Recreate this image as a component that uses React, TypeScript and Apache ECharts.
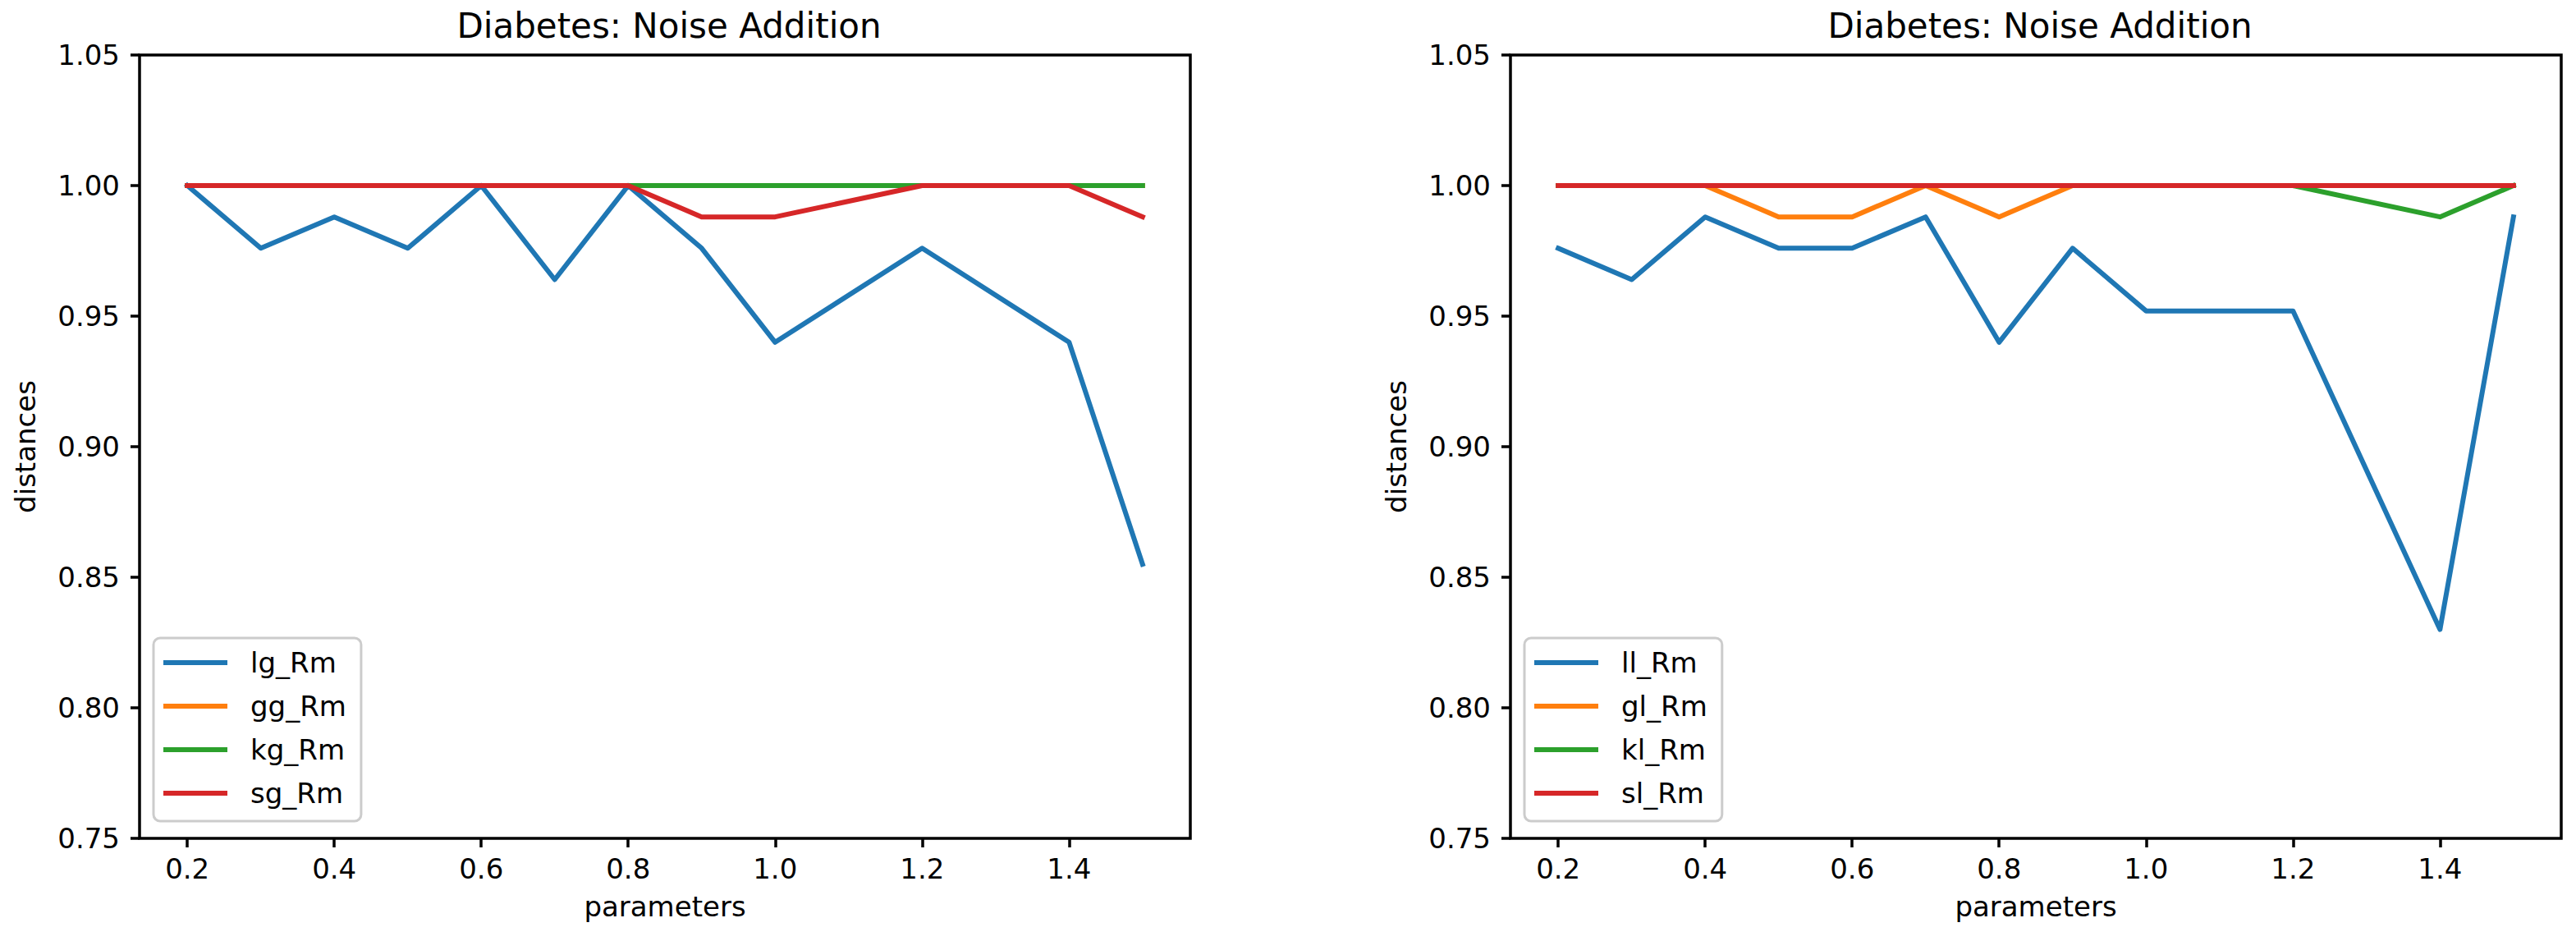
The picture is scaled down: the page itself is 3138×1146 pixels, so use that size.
import React, { useEffect, useRef } from "react";
import * as echarts from "echarts";

const X_PARAMS = [0.2, 0.3, 0.4, 0.5, 0.6, 0.7, 0.8, 0.9, 1.0, 1.2, 1.4, 1.5];
const X_TICKS = [0.2, 0.4, 0.6, 0.8, 1.0, 1.2, 1.4];
const Y_TICKS = [0.75, 0.8, 0.85, 0.9, 0.95, 1.0, 1.05];

const LEFT_NAMES = ["lg_Rm", "gg_Rm", "kg_Rm", "sg_Rm"];
const lg_Rm = [1.0, 0.976, 0.988, 0.976, 1.0, 0.964, 1.0, 0.976, 0.94, 0.976, 0.94, 0.855];
const gg_Rm = [1.0, 1.0, 1.0, 1.0, 1.0, 1.0, 1.0, 1.0, 1.0, 1.0, 1.0, 1.0];
const kg_Rm = [1.0, 1.0, 1.0, 1.0, 1.0, 1.0, 1.0, 1.0, 1.0, 1.0, 1.0, 1.0];
const sg_Rm = [1.0, 1.0, 1.0, 1.0, 1.0, 1.0, 1.0, 0.988, 0.988, 1.0, 1.0, 0.988];

const RIGHT_NAMES = ["ll_Rm", "gl_Rm", "kl_Rm", "sl_Rm"];
const ll_Rm = [0.976, 0.964, 0.988, 0.976, 0.976, 0.988, 0.94, 0.976, 0.952, 0.952, 0.83, 0.988];
const gl_Rm = [1.0, 1.0, 1.0, 0.988, 0.988, 1.0, 0.988, 1.0, 1.0, 1.0, 1.0, 1.0];
const kl_Rm = [1.0, 1.0, 1.0, 1.0, 1.0, 1.0, 1.0, 1.0, 1.0, 1.0, 0.988, 1.0];
const sl_Rm = [1.0, 1.0, 1.0, 1.0, 1.0, 1.0, 1.0, 1.0, 1.0, 1.0, 1.0, 1.0];

const TITLE = "Diabetes: Noise Addition";
const X_NAME = "parameters";
const Y_NAME = "distances";
const COLORS = ["#1f77b4", "#ff7f0e", "#2ca02c", "#d62728"];

const FONT = "DejaVu Sans";

export default function App() {
  const ref = useRef<HTMLDivElement>(null);

  useEffect(() => {
    if (!ref.current) return;
    const chart = echarts.init(ref.current, null, { renderer: "svg" });

    const plots = [
      { left: 170, names: LEFT_NAMES, values: [lg_Rm, gg_Rm, kg_Rm, sg_Rm] },
      { left: 1840, names: RIGHT_NAMES, values: [ll_Rm, gl_Rm, kl_Rm, sl_Rm] },
    ];
    const W = 1280;
    const H = 954;
    const TOP = 67;

    const grid: any[] = [];
    const xAxis: any[] = [];
    const yAxis: any[] = [];
    const series: any[] = [];
    const legend: any[] = [];
    const title: any[] = [];

    plots.forEach((p, i) => {
      grid.push({
        left: p.left,
        top: TOP,
        width: W,
        height: H,
        show: true,
        borderColor: "#000",
        borderWidth: 3.5,
        backgroundColor: "#fff",
      });
      xAxis.push({
        type: "value",
        gridIndex: i,
        min: 0.135,
        max: 1.565,
        name: X_NAME,
        nameLocation: "middle",
        nameGap: 66,
        nameTextStyle: { fontFamily: FONT, fontSize: 34, color: "#000" },
        axisLine: { show: false },
        splitLine: { show: false },
        axisTick: {
          show: true,
          length: 11,
          lineStyle: { color: "#000", width: 3.5 },
          customValues: X_TICKS,
        },
        axisLabel: {
          fontFamily: FONT,
          fontSize: 34,
          color: "#000",
          margin: 20,
          customValues: X_TICKS,
          formatter: (v: number) => v.toFixed(1),
        },
      });
      yAxis.push({
        type: "value",
        gridIndex: i,
        min: 0.75,
        max: 1.05,
        interval: 0.05,
        name: Y_NAME,
        nameLocation: "middle",
        nameGap: 122,
        nameTextStyle: { fontFamily: FONT, fontSize: 34, color: "#000" },
        axisLine: { show: false },
        splitLine: { show: false },
        axisTick: {
          show: true,
          length: 11,
          lineStyle: { color: "#000", width: 3.5 },
          customValues: Y_TICKS,
        },
        axisLabel: {
          fontFamily: FONT,
          fontSize: 34,
          color: "#000",
          margin: 24,
          customValues: Y_TICKS,
          formatter: (v: number) => v.toFixed(2),
        },
      });
      p.names.forEach((name, k) => {
        series.push({
          type: "line",
          name,
          xAxisIndex: i,
          yAxisIndex: i,
          data: X_PARAMS.map((x, j) => [x, p.values[k][j]]),
          showSymbol: false,
          symbol: "none",
          color: COLORS[k],
          lineStyle: { width: 6, color: COLORS[k], cap: "square", join: "round" },
          emphasis: { disabled: true },
          silent: true,
          z: 2 + k,
        });
      });
      legend.push({
        data: p.names,
        orient: "vertical",
        left: p.left + 17,
        top: 777,
        icon: "rect",
        itemWidth: 78,
        itemHeight: 6,
        itemGap: 13,
        padding: [10, 18, 14, 12],
        borderColor: "#cccccc",
        borderWidth: 3,
        borderRadius: 8,
        backgroundColor: "rgba(255,255,255,0.8)",
        selectedMode: false,
        textStyle: {
          fontFamily: FONT,
          fontSize: 34,
          color: "#000",
          lineHeight: 40,
          padding: [0, 0, 0, 23],
        },
      });
      title.push({
        text: TITLE,
        left: p.left + W / 2,
        textAlign: "center",
        top: 5,
        textStyle: { fontFamily: FONT, fontSize: 42, fontWeight: "normal", color: "#000" },
      });
    });

    chart.setOption({
      animation: false,
      backgroundColor: "#fff",
      title,
      grid,
      xAxis,
      yAxis,
      legend,
      series,
    });

    return () => chart.dispose();
  }, []);

  return (
    <div
      ref={ref}
      style={{ position: "absolute", left: 0, top: 0, width: 3138, height: 1146 }}
    />
  );
}
